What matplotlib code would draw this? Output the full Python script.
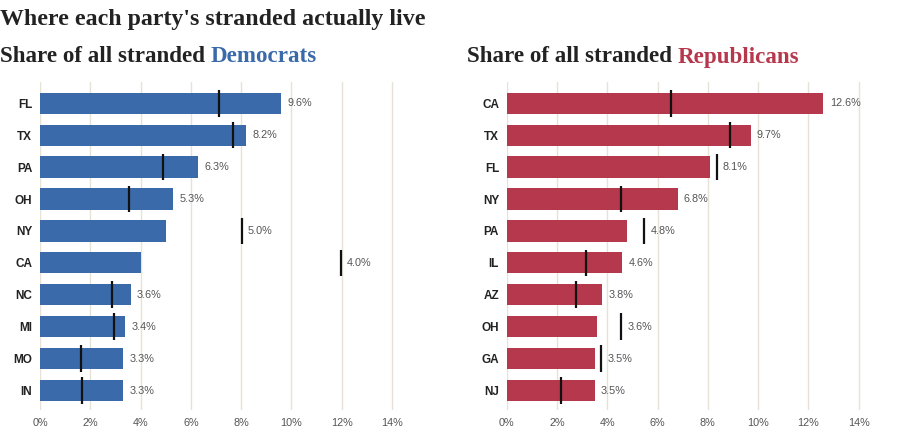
import matplotlib
matplotlib.use("Agg")
import matplotlib.pyplot as plt

# data
dem_states = ["FL", "TX", "PA", "OH", "NY", "CA", "NC", "MI", "MO", "IN"]
dem_share = [9.6, 8.2, 6.3, 5.3, 5.0, 4.0, 3.6, 3.4, 3.3, 3.3]
dem_marker = [7.13, 7.69, 4.89, 3.54, 8.02, 11.97, 2.88, 2.93, 1.64, 1.68]

rep_states = ["CA", "TX", "FL", "NY", "PA", "IL", "AZ", "OH", "GA", "NJ"]
rep_share = [12.6, 9.7, 8.1, 6.8, 4.8, 4.6, 3.8, 3.6, 3.5, 3.5]
rep_marker = [6.52, 8.90, 8.35, 4.55, 5.47, 3.15, 2.74, 4.56, 3.76, 2.17]

ticks = [0, 2, 4, 6, 8, 10, 12, 14]

BLUE = "#3a6aa9"
RED = "#b5384d"
GRID = "#e6e3d6"
SANS = "Liberation Sans"
SERIF = "Liberation Serif"

W, H = 900, 444
fig = plt.figure(figsize=(W / 100, H / 100), dpi=100)


def panel(x0, states, share, marker, color):
    # axes placed in pixel units: 0% at x0, 25.14 px per percent
    ax = fig.add_axes([x0 / W, 34 / H, 15 * 25.14 / W, 328 / H])
    n = len(states)
    ys = list(range(n))
    ax.barh(ys, share, height=0.66, color=color, zorder=2)
    ax.vlines(marker, [y - 0.42 for y in ys], [y + 0.42 for y in ys],
              color="#111111", lw=1.6, zorder=3)
    for y, s, m in zip(ys, share, marker):
        ax.annotate(f"{s:.1f}%", xy=(max(s, m), y), xytext=(4.5, 0),
                    textcoords="offset points", ha="left", va="center",
                    fontsize=7.8, color="#555555", family=SANS)
    ax.set_xlim(0, 15)
    ax.set_ylim(n - 0.4, -0.66)
    ax.set_xticks(ticks)
    ax.set_xticklabels([f"{t}%" for t in ticks], family=SANS, fontsize=7.8,
                       color="#555555")
    ax.set_yticks(ys)
    ax.set_yticklabels(states, family=SANS, fontsize=8.5, fontweight="bold",
                       color="#222222")
    ax.tick_params(length=0, pad=5.5)
    ax.tick_params(axis="x", pad=6)
    ax.grid(axis="x", color=GRID, lw=1, zorder=0)
    for sp in ax.spines.values():
        sp.set_visible(False)
    return ax


panel(40, dem_states, dem_share, dem_marker, BLUE)
panel(506.7, rep_states, rep_share, rep_marker, RED)

fig.text(0 / W, 1 - 25 / H, "Where each party's stranded actually live",
         family=SERIF, fontweight="bold", fontsize=17.2, color="#222222",
         va="baseline", ha="left")

renderer = fig.canvas.get_renderer()


def subtitle(x, word, color):
    yb = 1 - 62.5 / H
    t = fig.text(x / W, yb, "Share of all stranded ", family=SERIF,
                 fontweight="bold", fontsize=16.6, color="#222222",
                 va="baseline", ha="left")
    x1 = t.get_window_extent(renderer).x1
    fig.text(x1 / W, yb, word, family=SERIF, fontweight="bold",
             fontsize=16.6, color=color, va="baseline", ha="left")


subtitle(0, "Democrats", BLUE)
subtitle(467, "Republicans", RED)

fig.savefig("out.png", dpi=100, facecolor="white")
